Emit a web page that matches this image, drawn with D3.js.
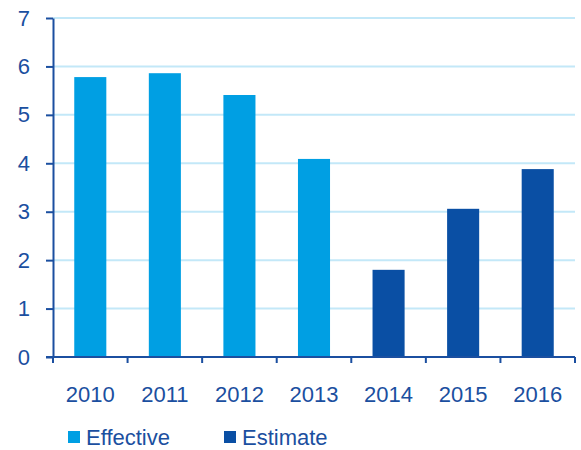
<!DOCTYPE html>
<html lang="en">
<head>
<meta charset="UTF-8">
<title>Effective vs Estimate</title>
<script src="https://d3js.org/d3.v7.min.js"></script>
<style>
  body { margin: 0; background: #fff; }
  text { font-family: "Liberation Sans", Arial, sans-serif; fill: #1b4fa0; }
</style>
</head>
<body>
<svg id="chart" width="581" height="450"></svg>
<script>
// data
const years = ["2010", "2011", "2012", "2013", "2014", "2015", "2016"];
const values = [5.78, 5.86, 5.41, 4.09, 1.8, 3.06, 3.88];
const kinds = ["Effective", "Effective", "Effective", "Effective", "Estimate", "Estimate", "Estimate"];
const yTicks = [0, 1, 2, 3, 4, 5, 6, 7];

const colors = { Effective: "#009fe3", Estimate: "#0a4fa4" };
const axisColor = "#1b4fa0";

const svg = d3.select("#chart");
const plotLeft = 53, plotRight = 575, plotTop = 18, plotBottom = 357;

const x = d3.scaleBand().domain(years).range([plotLeft, plotRight]).paddingInner(0.57).paddingOuter(0.285);
const y = d3.scaleLinear().domain([0, 7]).range([plotBottom, plotTop]);

// gridlines
svg.append("g").selectAll("line")
  .data(yTicks.filter(d => d > 0))
  .enter().append("line")
  .attr("x1", plotLeft).attr("x2", plotRight)
  .attr("y1", d => y(d)).attr("y2", d => y(d))
  .attr("stroke", "#c3e8f8").attr("stroke-width", 2);

// bars
svg.append("g").selectAll("rect")
  .data(years)
  .enter().append("rect")
  .attr("x", d => x(d))
  .attr("width", x.bandwidth())
  .attr("y", (d, i) => y(values[i]))
  .attr("height", (d, i) => y(0) - y(values[i]))
  .attr("fill", (d, i) => colors[kinds[i]]);

// y axis
const yAxis = svg.append("g")
  .attr("transform", `translate(${plotLeft},0)`)
  .call(d3.axisLeft(y).tickValues(yTicks).tickFormat(d3.format("d")).tickSize(7).tickPadding(16).tickSizeOuter(0));
yAxis.select(".domain").attr("stroke", axisColor).attr("stroke-width", 2);
yAxis.selectAll(".tick line").attr("stroke", axisColor).attr("stroke-width", 2);
yAxis.selectAll(".tick text").attr("font-size", 22).style("font-family", "Liberation Sans, Arial, sans-serif").attr("fill", axisColor);

// x axis, ticks at band boundaries
const step = x.step();
const boundaries = d3.range(years.length + 1).map(i => plotLeft + i * step);
svg.append("line")
  .attr("x1", plotLeft - 7).attr("x2", plotRight)
  .attr("y1", plotBottom).attr("y2", plotBottom)
  .attr("stroke", axisColor).attr("stroke-width", 2);
svg.append("g").selectAll("line")
  .data(boundaries)
  .enter().append("line")
  .attr("x1", d => d).attr("x2", d => d)
  .attr("y1", plotBottom).attr("y2", plotBottom + 6)
  .attr("stroke", axisColor).attr("stroke-width", 2);
svg.append("g").selectAll("text")
  .data(years)
  .enter().append("text")
  .attr("x", d => x(d) + x.bandwidth() / 2)
  .attr("y", 402)
  .attr("text-anchor", "middle")
  .attr("font-size", 22)
  .text(d => d);

// legend
const legend = [
  { name: "Effective", x: 68 },
  { name: "Estimate", x: 224 }
];
const lg = svg.append("g").selectAll("g")
  .data(legend)
  .enter().append("g")
  .attr("transform", d => `translate(${d.x},431)`);
lg.append("rect").attr("width", 12).attr("height", 12).attr("fill", d => colors[d.name]);
lg.append("text").attr("x", 18).attr("y", 14).attr("font-size", 22).text(d => d.name);
</script>
</body>
</html>
